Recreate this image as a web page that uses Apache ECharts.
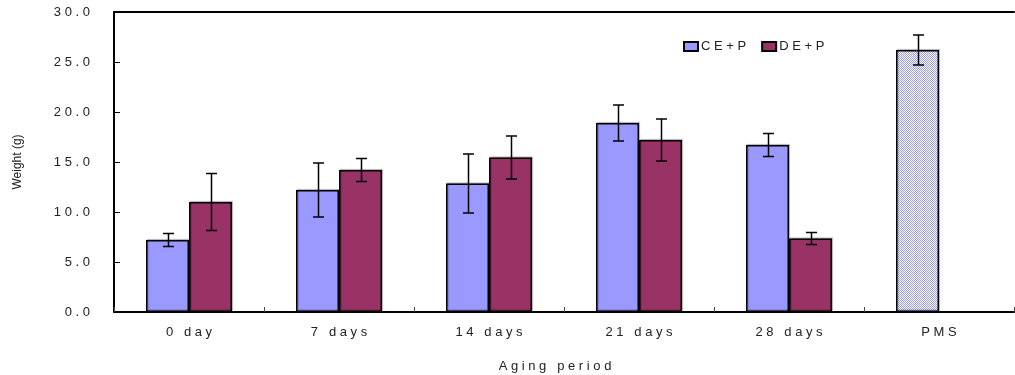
<!DOCTYPE html>
<html>
<head>
<meta charset="utf-8">
<script src="https://cdn.jsdelivr.net/npm/echarts@6/dist/echarts.min.js"></script>
<style>
html,body{margin:0;padding:0;background:#fff;}
#chart{width:1015px;height:375px;}
</style>
</head>
<body>
<div id="chart"></div>
<script>
// ---- data ----
var categories = ['0 day', '7 days', '14 days', '21 days', '28 days', 'PMS'];
var ceValues = [7.2, 12.2, 12.85, 18.9, 16.7, 26.2];
var ceErr    = [0.65, 2.7, 2.95, 1.8, 1.15, 1.5];
var deValues = [11.0, 14.2, 15.45, 17.2, 7.35, null];
var deErr    = [2.85, 1.15, 2.15, 2.1, 0.6, null];
var yTicks = [0, 5, 10, 15, 20, 25, 30];

function spaced(s){ return String(s).split('').join(' '); }

// dotted pattern for PMS bar
var pc = document.createElement('canvas');
pc.width = 2; pc.height = 2;
var pctx = pc.getContext('2d');
pctx.fillStyle = '#ffffff'; pctx.fillRect(0,0,2,2);
pctx.fillStyle = '#9999ff'; pctx.fillRect(0,0,1,1); pctx.fillRect(1,1,1,1);

var BAR_W = 43;

var ceData = ceValues.map(function(v, i){
  if (categories[i] === 'PMS') {
    return {value: v, itemStyle: {color: {image: pc, repeat: 'repeat'}}};
  }
  return v;
});
var deData = deValues.map(function(v){ return v == null ? '-' : v; });

function errSeries(values, errs, offset){
  var data = [];
  values.forEach(function(v, i){
    if (v != null && errs[i] != null) data.push([i, v - errs[i], v + errs[i]]);
  });
  return {
    type: 'custom',
    z: 10,
    silent: true,
    data: data,
    renderItem: function(params, api){
      var lo = api.coord([api.value(0), api.value(1)]);
      var hi = api.coord([api.value(0), api.value(2)]);
      var x = Math.round(lo[0] + offset) + 0.5;
      var cap = 5.5;
      var st = {stroke: '#000', lineWidth: 1.5};
      return {type: 'group', children: [
        {type: 'line', shape: {x1: x, y1: hi[1], x2: x, y2: lo[1]}, style: st},
        {type: 'line', shape: {x1: x - cap, y1: hi[1], x2: x + cap, y2: hi[1]}, style: st},
        {type: 'line', shape: {x1: x - cap, y1: lo[1], x2: x + cap, y2: lo[1]}, style: st}
      ]};
    }
  };
}

var FONT = 'Liberation Sans, Arial, sans-serif';
var labelFont = {fontFamily: FONT, fontSize: 13, color: '#222'};

var chart = echarts.init(document.getElementById('chart'));
chart.setOption({
  animation: false,
  backgroundColor: '#fff',
  grid: {left: 114, right: 1, top: 12, bottom: 63, containLabel: false, outerBoundsMode: 'none'},
  legend: {
    left: 678, top: 35,
    icon: 'rect', itemWidth: 14, itemHeight: 9, itemGap: 15,
    formatter: function(n){ return spaced(n); },
    textStyle: {fontFamily: FONT, fontSize: 13, color: '#222', padding: [0,0,0,-2]},
    data: ['CE+P', 'DE+P']
  },
  xAxis: [{
    type: 'category',
    data: categories,
    axisLine: {lineStyle: {color: '#000', width: 2}},
    axisTick: {show: true, inside: true, length: 5, lineStyle: {color: '#444', width: 1}},
    axisLabel: Object.assign({margin: 14, formatter: function(v){ return spaced(v); }}, labelFont),
    name: spaced('Aging period'),
    nameLocation: 'middle',
    nameGap: 48,
    nameTextStyle: Object.assign({padding: [0,18,0,0]}, labelFont)
  }, {
    type: 'category',
    position: 'top',
    data: categories,
    axisLine: {show: true, lineStyle: {color: '#000', width: 2}},
    axisTick: {show: false},
    axisLabel: {show: false}
  }],
  yAxis: {
    type: 'value',
    min: 0, max: 30, interval: 5,
    axisLine: {show: true, lineStyle: {color: '#000', width: 2}},
    axisTick: {show: true, inside: true, length: 6, lineStyle: {color: '#000', width: 1}},
    splitLine: {show: false},
    axisLabel: Object.assign({margin: 24, formatter: function(v){ return spaced(v.toFixed(1)); }}, labelFont),
    name: 'Weight (g)',
    nameLocation: 'middle',
    nameRotate: 90,
    nameGap: 90,
    nameTextStyle: {fontFamily: FONT, fontSize: 12, color: '#222'}
  },
  series: [{
    name: 'CE+P',
    type: 'bar',
    barWidth: BAR_W,
    barGap: '0%',
    data: ceData,
    itemStyle: {color: '#9999ff', borderColor: '#000', borderWidth: 1.5,
      shadowColor: 'rgba(0,0,0,0.25)', shadowOffsetX: 1, shadowOffsetY: -1, shadowBlur: 1}
  }, {
    name: 'DE+P',
    type: 'bar',
    barWidth: BAR_W,
    barGap: '0%',
    data: deData,
    itemStyle: {color: '#993366', borderColor: '#000', borderWidth: 1.5,
      shadowColor: 'rgba(0,0,0,0.25)', shadowOffsetX: 1, shadowOffsetY: -1, shadowBlur: 1}
  },
  errSeries(ceValues, ceErr, -BAR_W / 2),
  errSeries(deValues, deErr, BAR_W / 2)
  ]
});
</script>
</body>
</html>
